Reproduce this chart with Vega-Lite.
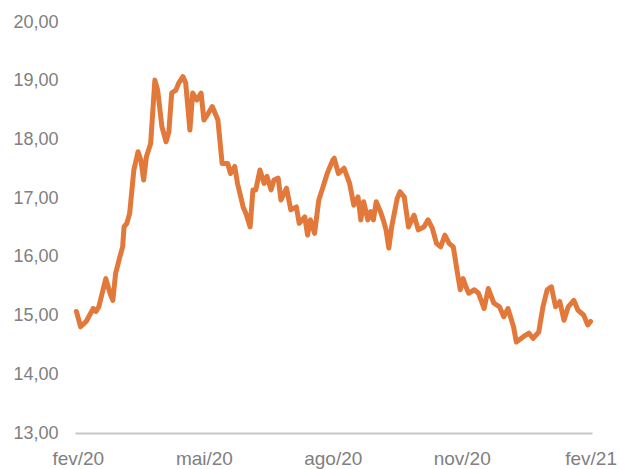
{
  "$schema": "https://vega.github.io/schema/vega-lite/v6.json",
  "autosize": "none",
  "width": 517,
  "height": 411,
  "padding": {"left": 75, "top": 22, "right": 28, "bottom": 36},
  "background": "white",
  "config": {"view": {"stroke": null}, "font": "Liberation Sans"},
  "data": {"values": [
    {"d": "2020-01-31", "v": 15.07}, {"d": "2020-02-03", "v": 14.81}, {"d": "2020-02-07", "v": 14.90},
    {"d": "2020-02-12", "v": 15.12}, {"d": "2020-02-14", "v": 15.07}, {"d": "2020-02-16", "v": 15.15},
    {"d": "2020-02-21", "v": 15.63}, {"d": "2020-02-24", "v": 15.38}, {"d": "2020-02-26", "v": 15.26},
    {"d": "2020-02-28", "v": 15.72}, {"d": "2020-03-02", "v": 16.00}, {"d": "2020-03-04", "v": 16.17},
    {"d": "2020-03-05", "v": 16.51}, {"d": "2020-03-07", "v": 16.57}, {"d": "2020-03-09", "v": 16.74},
    {"d": "2020-03-12", "v": 17.48}, {"d": "2020-03-15", "v": 17.79}, {"d": "2020-03-17", "v": 17.65},
    {"d": "2020-03-19", "v": 17.31}, {"d": "2020-03-21", "v": 17.71}, {"d": "2020-03-24", "v": 17.93},
    {"d": "2020-03-27", "v": 19.01}, {"d": "2020-03-29", "v": 18.84}, {"d": "2020-04-01", "v": 18.22},
    {"d": "2020-04-04", "v": 17.96}, {"d": "2020-04-06", "v": 18.13}, {"d": "2020-04-08", "v": 18.79},
    {"d": "2020-04-11", "v": 18.84}, {"d": "2020-04-13", "v": 18.96}, {"d": "2020-04-16", "v": 19.07},
    {"d": "2020-04-18", "v": 18.96}, {"d": "2020-04-21", "v": 18.16}, {"d": "2020-04-23", "v": 18.79},
    {"d": "2020-04-26", "v": 18.67}, {"d": "2020-04-29", "v": 18.79}, {"d": "2020-05-01", "v": 18.33},
    {"d": "2020-05-04", "v": 18.44}, {"d": "2020-05-07", "v": 18.56}, {"d": "2020-05-11", "v": 18.33},
    {"d": "2020-05-14", "v": 17.59}, {"d": "2020-05-18", "v": 17.59}, {"d": "2020-05-20", "v": 17.42},
    {"d": "2020-05-23", "v": 17.54}, {"d": "2020-05-25", "v": 17.25}, {"d": "2020-05-29", "v": 16.85},
    {"d": "2020-05-31", "v": 16.74}, {"d": "2020-06-03", "v": 16.51}, {"d": "2020-06-05", "v": 17.14},
    {"d": "2020-06-07", "v": 17.14}, {"d": "2020-06-10", "v": 17.48}, {"d": "2020-06-13", "v": 17.25},
    {"d": "2020-06-15", "v": 17.37}, {"d": "2020-06-18", "v": 17.14}, {"d": "2020-06-20", "v": 17.31},
    {"d": "2020-06-23", "v": 17.34}, {"d": "2020-06-25", "v": 16.97}, {"d": "2020-06-29", "v": 17.17},
    {"d": "2020-07-02", "v": 16.80}, {"d": "2020-07-06", "v": 16.85}, {"d": "2020-07-08", "v": 16.57},
    {"d": "2020-07-12", "v": 16.68}, {"d": "2020-07-14", "v": 16.37}, {"d": "2020-07-16", "v": 16.63},
    {"d": "2020-07-19", "v": 16.40}, {"d": "2020-07-22", "v": 16.97}, {"d": "2020-07-25", "v": 17.19},
    {"d": "2020-07-28", "v": 17.42}, {"d": "2020-08-01", "v": 17.65}, {"d": "2020-08-02", "v": 17.68},
    {"d": "2020-08-05", "v": 17.42}, {"d": "2020-08-09", "v": 17.51}, {"d": "2020-08-13", "v": 17.25},
    {"d": "2020-08-16", "v": 16.88}, {"d": "2020-08-19", "v": 17.02}, {"d": "2020-08-21", "v": 16.63},
    {"d": "2020-08-23", "v": 16.94}, {"d": "2020-08-26", "v": 16.63}, {"d": "2020-08-28", "v": 16.77},
    {"d": "2020-08-30", "v": 16.63}, {"d": "2020-09-01", "v": 16.94}, {"d": "2020-09-04", "v": 16.77},
    {"d": "2020-09-06", "v": 16.63}, {"d": "2020-09-08", "v": 16.46}, {"d": "2020-09-10", "v": 16.15},
    {"d": "2020-09-12", "v": 16.51}, {"d": "2020-09-16", "v": 17.00}, {"d": "2020-09-18", "v": 17.11},
    {"d": "2020-09-21", "v": 17.02}, {"d": "2020-09-24", "v": 16.51}, {"d": "2020-09-28", "v": 16.71},
    {"d": "2020-10-01", "v": 16.46}, {"d": "2020-10-05", "v": 16.51}, {"d": "2020-10-08", "v": 16.63},
    {"d": "2020-10-11", "v": 16.49}, {"d": "2020-10-14", "v": 16.23}, {"d": "2020-10-17", "v": 16.17},
    {"d": "2020-10-20", "v": 16.37}, {"d": "2020-10-23", "v": 16.23}, {"d": "2020-10-26", "v": 16.17},
    {"d": "2020-10-29", "v": 15.72}, {"d": "2020-10-31", "v": 15.44}, {"d": "2020-11-02", "v": 15.63},
    {"d": "2020-11-04", "v": 15.49}, {"d": "2020-11-06", "v": 15.38}, {"d": "2020-11-10", "v": 15.44},
    {"d": "2020-11-13", "v": 15.38}, {"d": "2020-11-17", "v": 15.12}, {"d": "2020-11-20", "v": 15.46},
    {"d": "2020-11-24", "v": 15.21}, {"d": "2020-11-28", "v": 15.15}, {"d": "2020-12-01", "v": 14.98},
    {"d": "2020-12-04", "v": 15.12}, {"d": "2020-12-08", "v": 14.81}, {"d": "2020-12-10", "v": 14.55},
    {"d": "2020-12-15", "v": 14.64}, {"d": "2020-12-19", "v": 14.70}, {"d": "2020-12-22", "v": 14.61},
    {"d": "2020-12-26", "v": 14.72}, {"d": "2020-12-29", "v": 15.15}, {"d": "2021-01-01", "v": 15.44},
    {"d": "2021-01-04", "v": 15.49}, {"d": "2021-01-07", "v": 15.15}, {"d": "2021-01-10", "v": 15.24},
    {"d": "2021-01-13", "v": 14.92}, {"d": "2021-01-16", "v": 15.15}, {"d": "2021-01-20", "v": 15.26},
    {"d": "2021-01-23", "v": 15.09}, {"d": "2021-01-27", "v": 15.01}, {"d": "2021-01-30", "v": 14.84},
    {"d": "2021-02-01", "v": 14.90}
  ]},
  "mark": {"type": "line", "color": "#E2793A", "strokeWidth": 5, "strokeJoin": "round", "strokeCap": "round", "clip": false},
  "encoding": {
    "x": {
      "field": "d", "type": "temporal",
      "scale": {"type": "utc", "domain": [{"year": 2020, "month": 1, "date": 30, "utc": true}, {"year": 2021, "month": 2, "date": 2, "utc": true}]},
      "axis": {
        "title": null, "grid": false, "ticks": false,
        "domain": true, "domainColor": "#c8c8c8", "domainWidth": 2,
        "values": [
          {"year": 2020, "month": 2, "date": 1, "utc": true},
          {"year": 2020, "month": 5, "date": 1, "utc": true},
          {"year": 2020, "month": 8, "date": 1, "utc": true},
          {"year": 2020, "month": 11, "date": 1, "utc": true},
          {"year": 2021, "month": 2, "date": 1, "utc": true}
        ],
        "labelExpr": "['jan','fev','mar','abr','mai','jun','jul','ago','set','out','nov','dez'][utcmonth(datum.value)] + '/' + utcFormat(datum.value, '%y')",
        "labelFontSize": 19, "labelColor": "#808080", "labelPadding": 16,
        "labelFlush": false, "labelOverlap": false
      }
    },
    "y": {
      "field": "v", "type": "quantitative",
      "scale": {"domain": [13, 20], "zero": false, "nice": false},
      "axis": {
        "title": null, "grid": false, "ticks": false, "domain": false,
        "values": [13, 14, 15, 16, 17, 18, 19, 20],
        "labelExpr": "replace(format(datum.value, '.2f'), '.', ',')",
        "labelFontSize": 18, "labelColor": "#808080", "labelPadding": 17
      }
    }
  }
}
